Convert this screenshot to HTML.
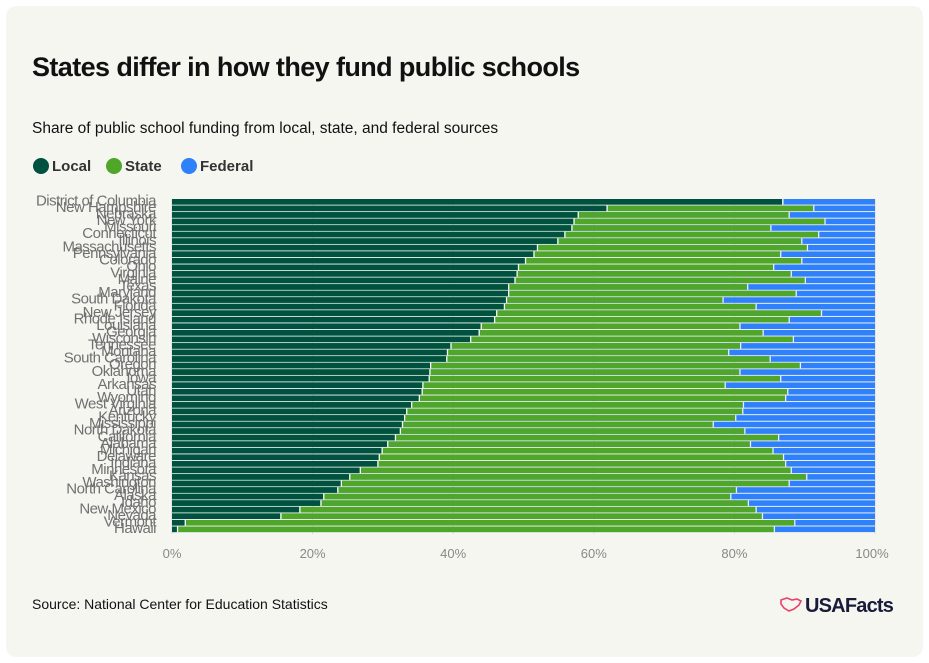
<!DOCTYPE html>
<html><head><meta charset="utf-8"><style>
html,body{margin:0;padding:0;background:#fff;}
body{width:929px;height:663px;position:relative;overflow:hidden;font-family:"Liberation Sans",sans-serif;}
.card{position:absolute;left:6px;top:6px;width:917px;height:651px;background:#f6f6f1;border-radius:10px;}
</style></head><body>
<div class="card"></div>
<svg width="929" height="663" style="position:absolute;left:0;top:0" font-family="Liberation Sans, sans-serif">
<text x="32" y="76" font-size="27" font-weight="bold" fill="#111" letter-spacing="-0.6">States differ in how they fund public schools</text>
<text x="32" y="133" font-size="15.5" fill="#111">Share of public school funding from local, state, and federal sources</text>
<circle cx="41" cy="166" r="8" fill="#00513f"/><text x="52" y="171" font-size="15" font-weight="bold" fill="#333">Local</text>
<circle cx="114" cy="166" r="8" fill="#4fa628"/><text x="125" y="171" font-size="15" font-weight="bold" fill="#333">State</text>
<circle cx="189" cy="166" r="8" fill="#2f80fb"/><text x="200" y="171" font-size="15" font-weight="bold" fill="#333">Federal</text>
<g stroke="#dcdcd6" stroke-width="1">
<line x1="172" y1="199" x2="172" y2="534"/><line x1="312.6" y1="199" x2="312.6" y2="534"/><line x1="453.2" y1="199" x2="453.2" y2="534"/><line x1="593.8" y1="199" x2="593.8" y2="534"/><line x1="734.4" y1="199" x2="734.4" y2="534"/><line x1="875" y1="199" x2="875" y2="534"/>
</g>
<g font-size="13" fill="#888" text-anchor="middle">
<text x="172" y="558">0%</text><text x="312.6" y="558">20%</text><text x="453.2" y="558">40%</text><text x="593.8" y="558">60%</text><text x="734.4" y="558">80%</text><text x="872" y="558">100%</text>
</g>
<svg x="172" y="199" width="703" height="335" viewBox="0 0 100 335" preserveAspectRatio="none">
<g id="bars"></g>
</svg>
<g font-size="15" fill="#707070" text-anchor="end" letter-spacing="-0.5">
<text x="156" y="205.5">District of Columbia</text>
<text x="156" y="212">New Hampshire</text>
<text x="156" y="218.5">Nebraska</text>
<text x="156" y="225.1">New York</text>
<text x="156" y="231.7">Missouri</text>
<text x="156" y="238.2">Connecticut</text>
<text x="156" y="244.8">Illinois</text>
<text x="156" y="251.3">Massachusetts</text>
<text x="156" y="257.9">Pennsylvania</text>
<text x="156" y="264.4">Colorado</text>
<text x="156" y="271">Ohio</text>
<text x="156" y="277.5">Virginia</text>
<text x="156" y="284.1">Maine</text>
<text x="156" y="290.6">Texas</text>
<text x="156" y="297.2">Maryland</text>
<text x="156" y="303.7">South Dakota</text>
<text x="156" y="310.3">Florida</text>
<text x="156" y="316.8">New Jersey</text>
<text x="156" y="323.4">Rhode Island</text>
<text x="156" y="329.9">Louisiana</text>
<text x="156" y="336.5">Georgia</text>
<text x="156" y="343">Wisconsin</text>
<text x="156" y="349.6">Tennessee</text>
<text x="156" y="356.1">Montana</text>
<text x="156" y="362.7">South Carolina</text>
<text x="156" y="369.2">Oregon</text>
<text x="156" y="375.8">Oklahoma</text>
<text x="156" y="382.3">Iowa</text>
<text x="156" y="388.9">Arkansas</text>
<text x="156" y="395.4">Utah</text>
<text x="156" y="402">Wyoming</text>
<text x="156" y="408.5">West Virginia</text>
<text x="156" y="415.1">Arizona</text>
<text x="156" y="421.6">Kentucky</text>
<text x="156" y="428.2">Mississippi</text>
<text x="156" y="434.7">North Dakota</text>
<text x="156" y="441.3">California</text>
<text x="156" y="447.8">Alabama</text>
<text x="156" y="454.4">Michigan</text>
<text x="156" y="460.9">Delaware</text>
<text x="156" y="467.5">Indiana</text>
<text x="156" y="474">Minnesota</text>
<text x="156" y="480.6">Kansas</text>
<text x="156" y="487.1">Washington</text>
<text x="156" y="493.7">North Carolina</text>
<text x="156" y="500.2">Alaska</text>
<text x="156" y="506.8">Idaho</text>
<text x="156" y="513.3">New Mexico</text>
<text x="156" y="519.9">Nevada</text>
<text x="156" y="526.4">Vermont</text>
<text x="156" y="533">Hawaii</text>
</g>
<text x="32" y="609" font-size="14" fill="#111">Source: National Center for Education Statistics</text>
<path d="M781 600 l6 -2 l5 2 l5 -1 l4 2 l-2 4 l-5 4 l-5 2 l-5 -3 l-3 -4z" fill="none" stroke="#e8436a" stroke-width="1.6"/>
<text x="805" y="612" font-size="20" font-weight="bold" fill="#1a1a3a" letter-spacing="-0.8">USAFacts</text>
</svg>
<script>
var d=[[86.8,86.8],[61.8,91.2],[57.7,87.7],[57.1,92.8],[56.8,85.1],[55.8,91.9],[54.8,89.5],[51.9,90.3],[51.4,86.5],[50.2,89.5],[49.2,85.5],[49.0,88.0],[48.7,90.0],[47.8,81.8],[47.8,88.7],[47.5,78.3],[47.2,83.0],[46.1,92.3],[45.8,87.7],[43.9,80.7],[43.6,84.0],[42.4,88.3],[39.6,80.8],[39.1,79.1],[39.0,85.0],[36.7,89.3],[36.6,80.7],[36.5,86.5],[35.6,78.6],[35.5,87.5],[35.1,87.2],[34.0,81.2],[33.3,81.1],[33.0,80.1],[32.7,76.9],[32.4,81.4],[31.7,86.2],[30.6,82.2],[29.8,85.4],[29.4,86.9],[29.2,87.2],[26.7,88.0],[25.2,90.2],[24.0,87.7],[23.5,80.2],[21.5,79.4],[21.1,81.9],[18.1,83.0],[15.4,83.9],[1.8,88.5],[0.7,85.6]];
var s='';
d.forEach(function(r,i){var y=(i*6.55).toFixed(2);
s+='<rect x="0" y="'+y+'" width="100" height="5.6" fill="#2f80fb"/>';
s+='<rect x="0" y="'+y+'" width="'+r[1]+'" height="5.6" fill="#4fa628"/>';
s+='<rect x="'+r[1]+'" y="'+y+'" width="0.18" height="5.6" fill="#eef"/>';
s+='<rect x="0" y="'+y+'" width="'+r[0]+'" height="5.6" fill="#00513f"/>';
s+='<rect x="'+r[0]+'" y="'+y+'" width="0.18" height="5.6" fill="#fff"/>';});
document.getElementById('bars').innerHTML=s;
</script>
</body></html>
